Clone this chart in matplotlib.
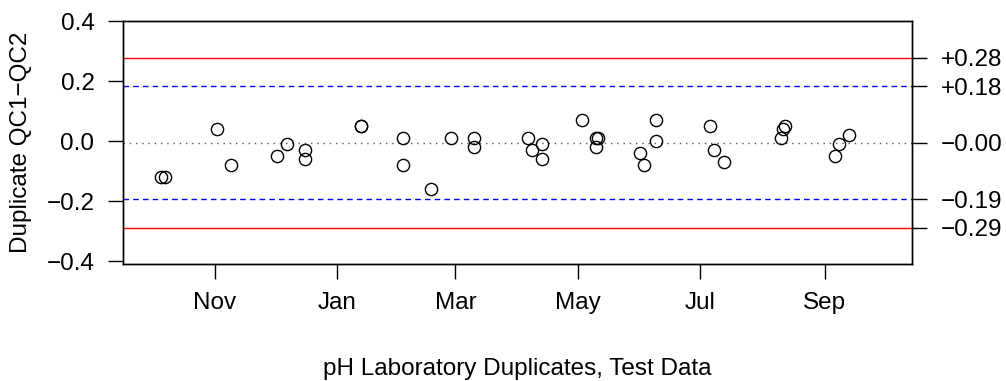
import numpy as np
import pandas as pd
import matplotlib
matplotlib.use("Agg")
import matplotlib.pyplot as plt
import matplotlib.dates as mdates

plt.rcParams["font.family"] = ["Liberation Sans", "DejaVu Sans"]

# Sample dates and duplicate differences (QC1 - QC2).
sample_dates = [
    "2021-10-05", "2021-10-07", "2021-11-02", "2021-11-09", "2021-12-02",
    "2021-12-07", "2021-12-16", "2021-12-16", "2022-01-13", "2022-01-13",
    "2022-02-03", "2022-02-03", "2022-02-17", "2022-02-27", "2022-03-10",
    "2022-03-10", "2022-04-06", "2022-04-08", "2022-04-13", "2022-04-13",
    "2022-05-03", "2022-05-10", "2022-05-11", "2022-05-10", "2022-06-01",
    "2022-06-03", "2022-06-09", "2022-06-09", "2022-07-06", "2022-07-08",
    "2022-07-13", "2022-08-12", "2022-08-11", "2022-08-10", "2022-09-06",
    "2022-09-08", "2022-09-13",
]
differences = [
    -0.12, -0.12, 0.04, -0.08, -0.05,
    -0.01, -0.03, -0.06, 0.05, 0.05,
    0.01, -0.08, -0.16, 0.01, 0.01,
    -0.02, 0.01, -0.03, -0.01, -0.06,
    0.07, 0.01, 0.01, -0.02, -0.04,
    -0.08, 0.07, 0.00, 0.05, -0.03,
    -0.07, 0.05, 0.04, 0.01, -0.05,
    -0.01, 0.02,
]

# Control limits (UCL, UWL, centre, LWL, LCL).
control_limits = [0.2777, 0.1839, -0.0047, -0.1933, -0.2876]
limit_colors = ["red", "blue", "#555555", "blue", "red"]
limit_styles = ["-", (0, (4, 3)), (0, (1, 3.5)), (0, (4, 3)), "-"]

month_ticks = ["2021-11-01", "2022-01-01", "2022-03-01",
               "2022-05-01", "2022-07-01", "2022-09-01"]
month_labels = ["Nov", "Jan", "Mar", "May", "Jul", "Sep"]

y_ticks = [-0.4, -0.2, 0.0, 0.2, 0.4]

water_year = (pd.Timestamp("2021-10-01"), pd.Timestamp("2022-09-30"))

FS = 17.5

fig = plt.figure(figsize=(10.06, 3.81), dpi=100)
ax = fig.add_axes([0.1226, 0.3063, 0.9066 - 0.1226, 0.9441 - 0.3063])

dates = pd.to_datetime(sample_dates)
ax.plot(dates, differences, "o", mfc="none", mec="black", ms=8.8, mew=1.0,
        zorder=3)

for val, col, ls in zip(control_limits, limit_colors, limit_styles):
    ax.axhline(val, color=col, linestyle=ls, lw=1.0, zorder=2)

# x range: water year padded by 4% on each side, like R
span = water_year[1] - water_year[0]
ax.set_xlim(water_year[0] - span * 0.04, water_year[1] + span * 0.04)
ax.set_ylim(-0.41, 0.40)

ax.set_xticks(pd.to_datetime(month_ticks))
ax.set_xticklabels(month_labels)
ax.set_yticks(y_ticks)
ax.set_yticklabels([f"{t:.1f}".replace("-", "\u2212") for t in y_ticks])

for sp in ax.spines.values():
    sp.set_linewidth(1.0)
ax.tick_params(axis="y", length=10.8, width=1.0, pad=10, labelsize=FS)
ax.tick_params(axis="x", length=10.8, width=1.0, pad=9, labelsize=FS)

# right-hand axis with the limit values
ax2 = ax.twinx()
ax2.set_ylim(ax.get_ylim())
ax2.set_yticks(control_limits)
ax2.set_yticklabels([f"{v:+.2f}".replace("-", "\u2212") for v in control_limits])
ax2.tick_params(length=10.8, width=1.0, pad=10, labelsize=FS)
for sp in ax2.spines.values():
    sp.set_linewidth(1.0)

fig.text(21 / 1006, 1 - 142.8 / 381, "Duplicate QC1\u2212QC2", rotation=90,
         ha="center", va="center", fontsize=FS)
fig.text(517.6 / 1006, 1 - 369 / 381, "pH Laboratory Duplicates, Test Data",
         ha="center", va="center", fontsize=FS)

fig.savefig("out.png", dpi=100)
